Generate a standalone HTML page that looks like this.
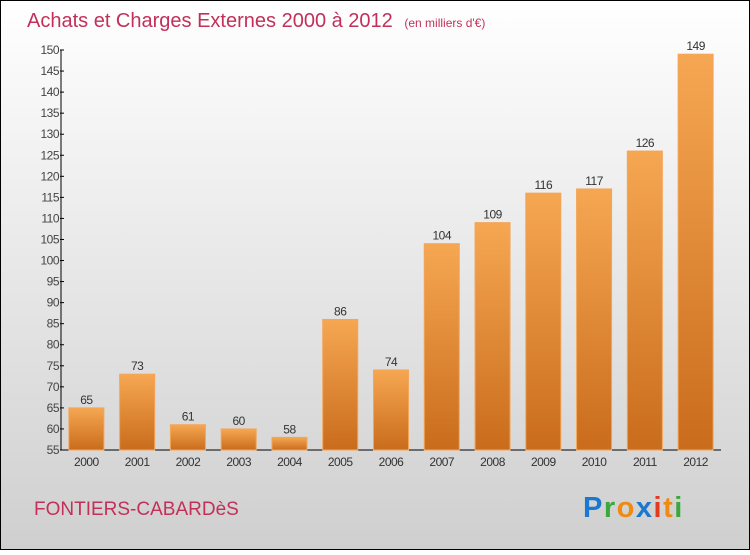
<!DOCTYPE html>
<html><head><meta charset="utf-8"><style>
html,body{margin:0;padding:0;}
body{width:750px;height:550px;overflow:hidden;font-family:"Liberation Sans",sans-serif;}
</style></head><body>
<svg id="chart" width="750" height="550" xmlns="http://www.w3.org/2000/svg">
<defs>
<linearGradient id="bg" x1="0" y1="0" x2="0" y2="1"><stop offset="0" stop-color="#ffffff"/><stop offset="1" stop-color="#cfcfcf"/></linearGradient>
<linearGradient id="bar" x1="0" y1="0" x2="0" y2="1"><stop offset="0" stop-color="#f6a752"/><stop offset="1" stop-color="#c96c1c"/></linearGradient>
</defs>
<rect x="0.5" y="0.5" width="749" height="549" fill="url(#bg)" stroke="#000"/>
<text x="27" y="27" font-size="20" fill="#c2305a">Achats et Charges Externes 2000 à 2012 <tspan font-size="12" dx="6">(en milliers d'€)</tspan></text>
<text x="34" y="515" font-size="19" fill="#c2305a">FONTIERS-CABARDèS</text>
<g font-size="29" font-weight="bold" font-family="Liberation Sans, sans-serif">
<text x="583" y="517" letter-spacing="1.5"><tspan fill="#1a78d0">P</tspan><tspan fill="#3aa83a">r</tspan><tspan fill="#f08a10">o</tspan><tspan fill="#1a78d0">x</tspan><tspan fill="#e03a20">i</tspan><tspan fill="#f08a10">t</tspan><tspan fill="#3aa83a">i</tspan></text>
</g>
<g id="axes"></g><g id="bars"></g>
</svg>
<script>
const years=["2000","2001","2002","2003","2004","2005","2006","2007","2008","2009","2010","2011","2012"];
const values=[65,73,61,60,58,86,74,104,109,116,117,126,149];
const yTicks=[55,60,65,70,75,80,85,90,95,100,105,110,115,120,125,130,135,140,145,150];
const NS="http://www.w3.org/2000/svg";
const x0=61,x1=721,yB=450,yT=50,vMin=55,vMax=150;
const y=v=>yB-(v-vMin)/(vMax-vMin)*(yB-yT);
const step=(x1-x0)/years.length;
const xc=i=>x0+step*(i+0.5);
function mk(t,a,p){const e=document.createElementNS(NS,t);for(const k in a)e.setAttribute(k,a[k]);p.appendChild(e);return e;}
const ax=document.getElementById('axes'),bg=document.getElementById('bars');
const yl=mk('line',{x1:x0,y1:yT,x2:x0,y2:yB,stroke:'#000'},ax);


const xl=mk('line',{x1:x0,y1:yB,x2:x1,y2:yB,stroke:'#000'},ax);


yTicks.forEach(v=>{
 const t=mk('line',{x1:x0-1,y1:y(v),x2:x0+3,y2:y(v),stroke:'#000'},ax);
 
 
 const l=mk('text',{x:x0-2,y:y(v)+4,'font-size':12,fill:'#444','text-anchor':'end','letter-spacing':'-0.5'},ax);
 l.textContent=v;
 
 
});
const bw=35;
years.forEach((yr,i)=>{
 const v=values[i],c=xc(i);
 const r=mk('rect',{x:c-bw/2,y:y(v),width:bw,height:yB-y(v),fill:'url(#bar)',stroke:'#f3a55a','stroke-width':1},bg);
 
 
 const vl=mk('text',{x:c,y:y(v)-4,'font-size':12,fill:'#333','text-anchor':'middle','letter-spacing':'-0.5'},bg);
 vl.textContent=v;
 
 
 const xl2=mk('text',{x:c,y:466,'font-size':12,fill:'#333','text-anchor':'middle','letter-spacing':'-0.5'},bg);
 xl2.textContent=yr;
 
 
});
</script>
</body></html>
